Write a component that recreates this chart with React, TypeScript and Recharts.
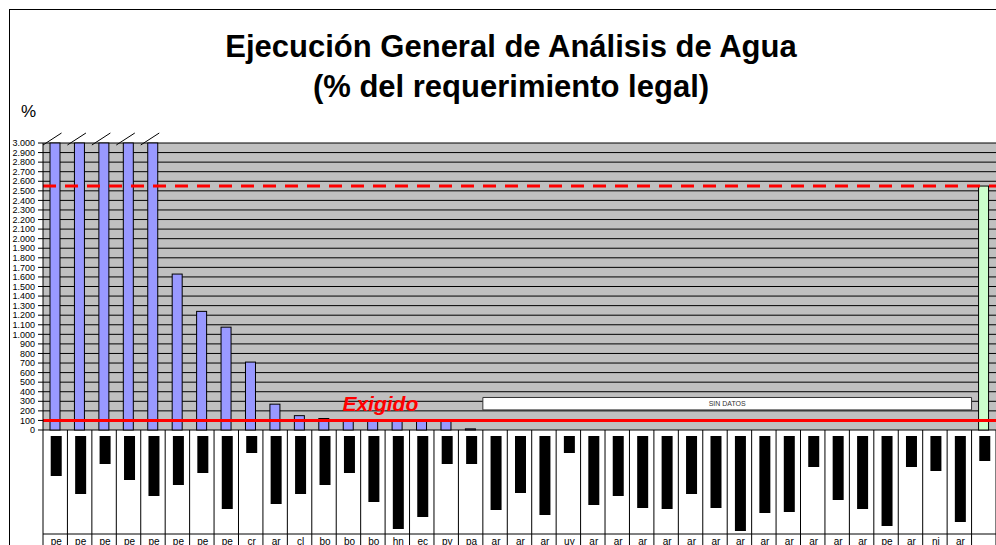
import React from 'react';
import {
  BarChart, Bar, XAxis, YAxis, CartesianGrid, ReferenceLine, ReferenceArea, ReferenceDot,
} from 'recharts';

// ---- data ----
const countryCodes = [
  'pe', 'pe', 'pe', 'pe', 'pe', 'pe', 'pe', 'pe', 'cr', 'ar',
  'cl', 'bo', 'bo', 'bo', 'hn', 'ec', 'py', 'pa', 'ar', 'ar',
  'ar', 'uy', 'ar', 'ar', 'ar', 'ar', 'ar', 'ar', 'ar', 'ar',
  'ar', 'ar', 'ar', 'ar', 'pe', 'ar', 'ni', 'ar', '',
];

// % of legal requirement (first five exceed the axis, drawn broken)
const executionValues: (number | null)[] = [
  3500, 3500, 3500, 3500, 3500, 1630, 1240, 1075, 710, 270,
  150, 120, 100, 100, 100, 100, 100, 12, null, null,
  null, null, null, null, null, null, null, null, null, null,
  null, null, null, null, null, null, null, null, 2550,
];

// length of the redacted (blacked-out) name under each category
const nameBoxLengths = [
  40, 58, 28, 44, 60, 49, 37, 73, 17, 68,
  58, 49, 37, 66, 93, 81, 28, 28, 74, 57,
  79, 17, 69, 60, 72, 73, 58, 72, 95, 77,
  76, 31, 64, 73, 90, 31, 35, 86, 25,
];

const yTicks = [
  0, 100, 200, 300, 400, 500, 600, 700, 800, 900, 1000,
  1100, 1200, 1300, 1400, 1500, 1600, 1700, 1800, 1900, 2000,
  2100, 2200, 2300, 2400, 2500, 2600, 2700, 2800, 2900, 3000,
];

const Y_MAX = 3000;
const REQUIRED = 100;
const AVERAGE_LINE = 2550;
const NO_DATA_FIRST = 19;
const NO_DATA_LAST = 38;
const LABEL_CATEGORY = 15;

const data = countryCodes.map((code, i) => ({
  id: i + 1,
  code,
  raw: executionValues[i],
  shown: executionValues[i] == null ? null : Math.min(executionValues[i] as number, Y_MAX),
}));

// ---- styling ----
const FONT = '"Liberation Sans", Arial, Helvetica, sans-serif';
const BLUE = '#9999FF';
const GREEN = '#CCFFCC';
const RED = '#FF0000';
const CHART_W = 996;
const CHART_H = 560;
const Y_AXIS_W = 43;
const PLOT_TOP = 143;
const X_AXIS_H = 130;
const BAND = (CHART_W - Y_AXIS_W) / countryCodes.length;

const fmt = (v: number) =>
  v >= 1000 ? `${Math.floor(v / 1000)}.${String(v % 1000).padStart(3, '0')}` : String(v);

function BarShape(props: any) {
  const { x, y, width, height, payload } = props;
  const raw = payload ? payload.raw : null;
  if (raw == null || !(height > 0)) return null;
  const isLast = payload.id === countryCodes.length;
  const cx = x + width / 2;
  return (
    <g>
      <rect x={x} y={y} width={width} height={height} fill={isLast ? GREEN : BLUE} stroke="#000" strokeWidth={1} />
      {raw > Y_MAX && (
        <line x1={cx - 12} y1={y + 2} x2={cx + 6.5} y2={y - 10} stroke="#000" strokeWidth={1} />
      )}
    </g>
  );
}

function CategoryTick(props: any) {
  const { x, y, payload } = props;
  const i = (payload && payload.index != null) ? payload.index : props.index;
  const left = x - BAND / 2;
  const right = x + BAND / 2;
  const len = nameBoxLengths[i];
  const isLast = i === countryCodes.length - 1;
  return (
    <g>
      <line x1={left} x2={left} y1={y} y2={y + 130} stroke="#000" strokeWidth={1} />
      {isLast && <line x1={right} x2={right} y1={y} y2={y + 130} stroke="#000" strokeWidth={1} />}
      <line x1={left} x2={right} y1={y + 104} y2={y + 104} stroke="#000" strokeWidth={1} />
      <rect x={x - 4.5} y={y + 6} width={11} height={len} fill="#000" />
      <text x={x + 1} y={y + 115} textAnchor="middle" fontSize={10} fontFamily={FONT} fill="#000">
        {countryCodes[i]}
      </text>
    </g>
  );
}

function ExigidoLabel(props: any) {
  const vb = props.viewBox || {};
  const cx = (vb.x ?? 0) + (vb.width ?? 0) / 2;
  const cy = (vb.y ?? 0) + (vb.height ?? 0) / 2;
  return (
    <text
      x={cx - 17}
      y={cy - 9}
      textAnchor="middle"
      fill={RED}
      fontSize={21}
      fontWeight="bold"
      fontStyle="italic"
      fontFamily={FONT}
    >
      Exigido
    </text>
  );
}

export default function App() {
  return (
    <div
      style={{
        position: 'absolute', left: 0, top: 0, width: CHART_W, height: 545,
        overflow: 'hidden', background: '#fff', fontFamily: FONT,
      }}
    >
      <div
        style={{
          position: 'absolute', left: 9, top: 9, width: 1200, height: 800,
          borderTop: '1px solid #000', borderLeft: '1px solid #000',
        }}
      />
      <div
        style={{
          position: 'absolute', left: 0, top: 27, width: 1022, textAlign: 'center',
          fontSize: 31, fontWeight: 'bold', lineHeight: '40px', color: '#000',
        }}
      >
        <div>Ejecución General de Análisis de Agua</div>
        <div>(% del requerimiento legal)</div>
      </div>
      <div
        style={{
          position: 'absolute', left: 21, top: 102.6, fontSize: 17, lineHeight: '17px', color: '#000',
        }}
      >
        %
      </div>
      <div style={{ position: 'absolute', left: 0, top: 0 }}>
        <BarChart
          width={CHART_W}
          height={CHART_H}
          data={data}
          margin={{ top: PLOT_TOP, right: 0, bottom: 0, left: 0 }}
          barSize={10}
        >
          <CartesianGrid vertical={false} stroke="#000" strokeWidth={1} fill="#C0C0C0" fillOpacity={1} />
          <XAxis
            dataKey="id"
            type="category"
            height={X_AXIS_H}
            interval={0}
            axisLine={false}
            tickLine={false}
            tickSize={0}
            tickMargin={0}
            tick={<CategoryTick />}
          />
          <YAxis
            width={Y_AXIS_W}
            domain={[0, Y_MAX]}
            ticks={yTicks}
            interval={0}
            tickFormatter={fmt}
            tickSize={5}
            tickMargin={3}
            axisLine={{ stroke: '#000' }}
            tickLine={{ stroke: '#000' }}
            tick={{ fontSize: 9, fill: '#000', fontFamily: FONT }}
          />
          <ReferenceArea
            x1={NO_DATA_FIRST}
            x2={NO_DATA_LAST}
            y1={210}
            y2={340}
            fill="#FFFFFF"
            fillOpacity={1}
            stroke="#333"
            strokeWidth={1}
            label={{ value: 'SIN DATOS', position: 'center', fontSize: 7, fill: '#333', fontFamily: FONT }}
          />
          <Bar dataKey="shown" isAnimationActive={false} shape={<BarShape />} />
          <ReferenceLine y={AVERAGE_LINE} stroke={RED} strokeWidth={3} strokeDasharray="13 9" />
          <ReferenceLine y={REQUIRED} stroke={RED} strokeWidth={3} />
          <ReferenceDot
            x={LABEL_CATEGORY}
            y={REQUIRED}
            r={0}
            fill="none"
            stroke="none"
            label={<ExigidoLabel />}
          />
        </BarChart>
      </div>
    </div>
  );
}
